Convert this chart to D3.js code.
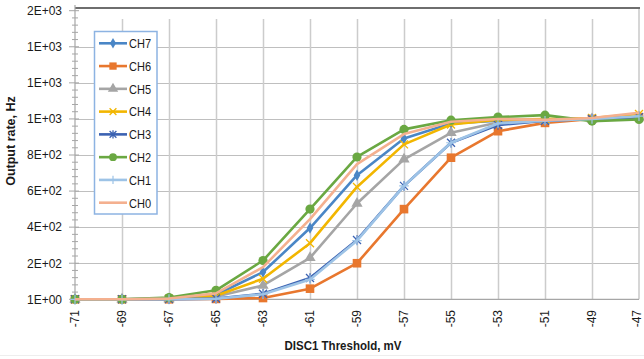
<!DOCTYPE html>
<html><head><meta charset="utf-8">
<script src="https://cdn.jsdelivr.net/npm/d3@7"></script>
<style>
body{margin:0;background:#fff;}
svg{display:block;}
</style></head>
<body>
<svg id="c" width="644" height="359"></svg>
<script>
const xValues = [-71,-69,-67,-65,-63,-61,-59,-57,-55,-53,-51,-49,-47];
const seriesNames = ["CH7","CH6","CH5","CH4","CH3","CH2","CH1","CH0"];
const CH7 = [0,0,3,25,151,395,688,892,975,990,995,1000,1010];
const CH6 = [0,0,0,2,7,59,200,500,785,932,978,1000,1010];
const CH5 = [0,0,2,15,77,230,531,776,923,980,990,1000,1010];
const CH4 = [0,0,3,20,114,311,623,859,969,995,1000,1005,1027];
const CH3 = [0,0,1,4,31,118,329,629,868,966,990,1000,1010];
const CH2 = [0,0,10,50,215,500,789,942,993,1010,1021,988,997];
const CH1 = [0,0,1,3,28,110,325,629,868,975,990,1000,1015];
const CH0 = [0,0,4,33,178,445,749,916,984,1000,995,1005,1034];
const yTickValues = [0,200,400,600,800,1000,1200,1400,1600];
const yTickLabels = ["1E+00","2E+02","4E+02","6E+02","8E+02","1E+03","1E+03","1E+03","2E+03"];
const xTitle = "DISC1 Threshold, mV";
const yTitle = "Output rate, Hz";

const seriesData = [CH7,CH6,CH5,CH4,CH3,CH2,CH1,CH0];
const colors = ["#4A86C6","#E8772E","#A5A5A5","#F2B600","#3B62B2","#6AA842","#9DC3E6","#F4B08F"];
const markers = ["diamond","square","triangle","x","asterisk","circle","plus","none"];

const svg = d3.select("#c");
const L=75, R=639, B=299.3, T=10.7;
const x = d3.scaleLinear().domain([-71,-47]).range([L,R]);
const y = d3.scaleLinear().domain([0,1600]).range([B,T]);

svg.append("line").attr("x1",0).attr("x2",644).attr("y1",355.5).attr("y2",355.5).attr("stroke","#eeeeee");

svg.append("g").selectAll("line").data(yTickValues.slice(1,-1)).join("line")
  .attr("x1",L).attr("x2",R).attr("y1",d=>Math.round(y(d))+0.5).attr("y2",d=>Math.round(y(d))+0.5)
  .attr("stroke","#bfbfbf").attr("stroke-width",1);
svg.append("g").selectAll("line").data(xValues.slice(1,-1)).join("line")
  .attr("x1",d=>Math.round(x(d))+0.5).attr("x2",d=>Math.round(x(d))+0.5).attr("y1",19).attr("y2",B)
  .attr("stroke","#cccccc").attr("stroke-width",1.5);
svg.append("line").attr("x1",R).attr("x2",R).attr("y1",7).attr("y2",B).attr("stroke","#c8c8c8").attr("stroke-width",1.5);
svg.append("line").attr("x1",L).attr("x2",R+1).attr("y1",8).attr("y2",8).attr("stroke","#6e6e6e").attr("stroke-width",2.2);
svg.append("line").attr("x1",L).attr("x2",R).attr("y1",B).attr("y2",B).attr("stroke","#a6a6a6").attr("stroke-width",1.2);
svg.append("line").attr("x1",L).attr("x2",L).attr("y1",5).attr("y2",B+2).attr("stroke","#a6a6a6").attr("stroke-width",1.2);

const minor = [];
for (let i=0;i<yTickValues.length-1;i++){
  const a=yTickValues[i], b=yTickValues[i+1];
  for (let k=1;k<5;k++) minor.push(a+(b-a)*k/5);
}
svg.append("g").selectAll("line").data(minor).join("line")
  .attr("x1",L-3).attr("x2",L+3).attr("y1",d=>y(d)).attr("y2",d=>y(d)).attr("stroke","#a6a6a6").attr("stroke-width",1);
svg.append("g").selectAll("line").data(yTickValues).join("line")
  .attr("x1",L-6).attr("x2",L+4).attr("y1",d=>y(d)).attr("y2",d=>y(d)).attr("stroke","#a6a6a6").attr("stroke-width",1);

svg.append("g").selectAll("text").data(yTickValues).join("text")
  .attr("x",62).attr("y",d=>y(d)).attr("dy","0.36em").attr("text-anchor","end")
  .attr("font-family","'Liberation Sans', Arial, sans-serif").attr("font-size",12).attr("fill","#1a1a1a")
  .text((d,i)=>yTickLabels[i]);

svg.append("g").selectAll("text").data(xValues).join("text")
  .attr("transform",d=>`translate(${Math.min(x(d),637)},310) rotate(-90)`).attr("dy","0.36em").attr("text-anchor","end")
  .attr("font-family","'Liberation Sans', Arial, sans-serif").attr("font-size",12).attr("fill","#1a1a1a")
  .text(d=>d);

svg.append("text").attr("x",343).attr("y",350).attr("text-anchor","middle")
  .attr("font-family","'Liberation Sans', Arial, sans-serif").attr("font-weight","bold")
  .attr("font-size",13).attr("fill","#1a1a1a")
  .attr("textLength",117).attr("lengthAdjust","spacingAndGlyphs").text(xTitle);
svg.append("text").attr("transform","translate(15,141) rotate(-90)").attr("text-anchor","middle")
  .attr("font-family","'Liberation Sans', Arial, sans-serif").attr("font-weight","bold")
  .attr("font-size",12.5).attr("fill","#1a1a1a").text(yTitle);

function drawMarker(g, type, cx, cy, color, s){
  s = s||1;
  if (type==="diamond"){
    g.append("path").attr("d",d3.symbol().type(d3.symbolDiamond).size(38*s)()).attr("transform",`translate(${cx},${cy})`).attr("fill",color);
  } else if (type==="square"){
    g.append("rect").attr("x",cx-4.3*s).attr("y",cy-4.3*s).attr("width",8.6*s).attr("height",8.6*s).attr("fill",color);
  } else if (type==="triangle"){
    g.append("path").attr("d",d3.symbol().type(d3.symbolTriangle).size(55*s)()).attr("transform",`translate(${cx},${cy})`).attr("fill",color);
  } else if (type==="circle"){
    g.append("circle").attr("cx",cx).attr("cy",cy).attr("r",4.6*s).attr("fill",color);
  } else if (type==="x"){
    const r=4*s;
    g.append("path").attr("d",`M${cx-r},${cy-r}L${cx+r},${cy+r}M${cx-r},${cy+r}L${cx+r},${cy-r}`).attr("stroke",color).attr("stroke-width",1.3).attr("fill","none");
  } else if (type==="asterisk"){
    const r=4*s;
    g.append("path").attr("d",`M${cx-r},${cy-r}L${cx+r},${cy+r}M${cx-r},${cy+r}L${cx+r},${cy-r}M${cx},${cy-r*1.2}L${cx},${cy+r*1.2}`).attr("stroke",color).attr("stroke-width",1.3).attr("fill","none");
  } else if (type==="plus"){
    const r=4.8*s;
    g.append("path").attr("d",`M${cx-r},${cy}L${cx+r},${cy}M${cx},${cy-r}L${cx},${cy+r}`).attr("stroke",color).attr("stroke-width",1.2).attr("fill","none");
  }
}

const line = d3.line().x((d,i)=>x(xValues[i])).y(d=>y(d));
seriesData.forEach((vals,si)=>{
  const g = svg.append("g");
  g.append("path").datum(vals).attr("d",line).attr("fill","none").attr("stroke",colors[si])
    .attr("stroke-width",2.6).attr("stroke-linejoin","round");
  vals.forEach((v,i)=>drawMarker(g, markers[si], x(xValues[i]), y(v), colors[si]));
});

const lg = svg.append("g");
lg.append("rect").attr("x",94.5).attr("y",31.5).attr("width",62.5).attr("height",182.5)
  .attr("fill","#fff").attr("stroke","#8DB3E2").attr("stroke-width",1.5);
seriesNames.forEach((n,i)=>{
  const cy = 43.3 + i*22.77;
  lg.append("line").attr("x1",99).attr("x2",127).attr("y1",cy).attr("y2",cy).attr("stroke",colors[i]).attr("stroke-width",2.6);
  drawMarker(lg, markers[i], 113, cy, colors[i], 0.85);
  lg.append("text").attr("x",129).attr("y",cy).attr("dy","0.36em")
    .attr("font-family","'Liberation Sans', Arial, sans-serif")
    .attr("font-size",13.5).attr("fill","#1a1a1a")
    .attr("textLength",22).attr("lengthAdjust","spacingAndGlyphs").text(n);
});
</script>
</body></html>
